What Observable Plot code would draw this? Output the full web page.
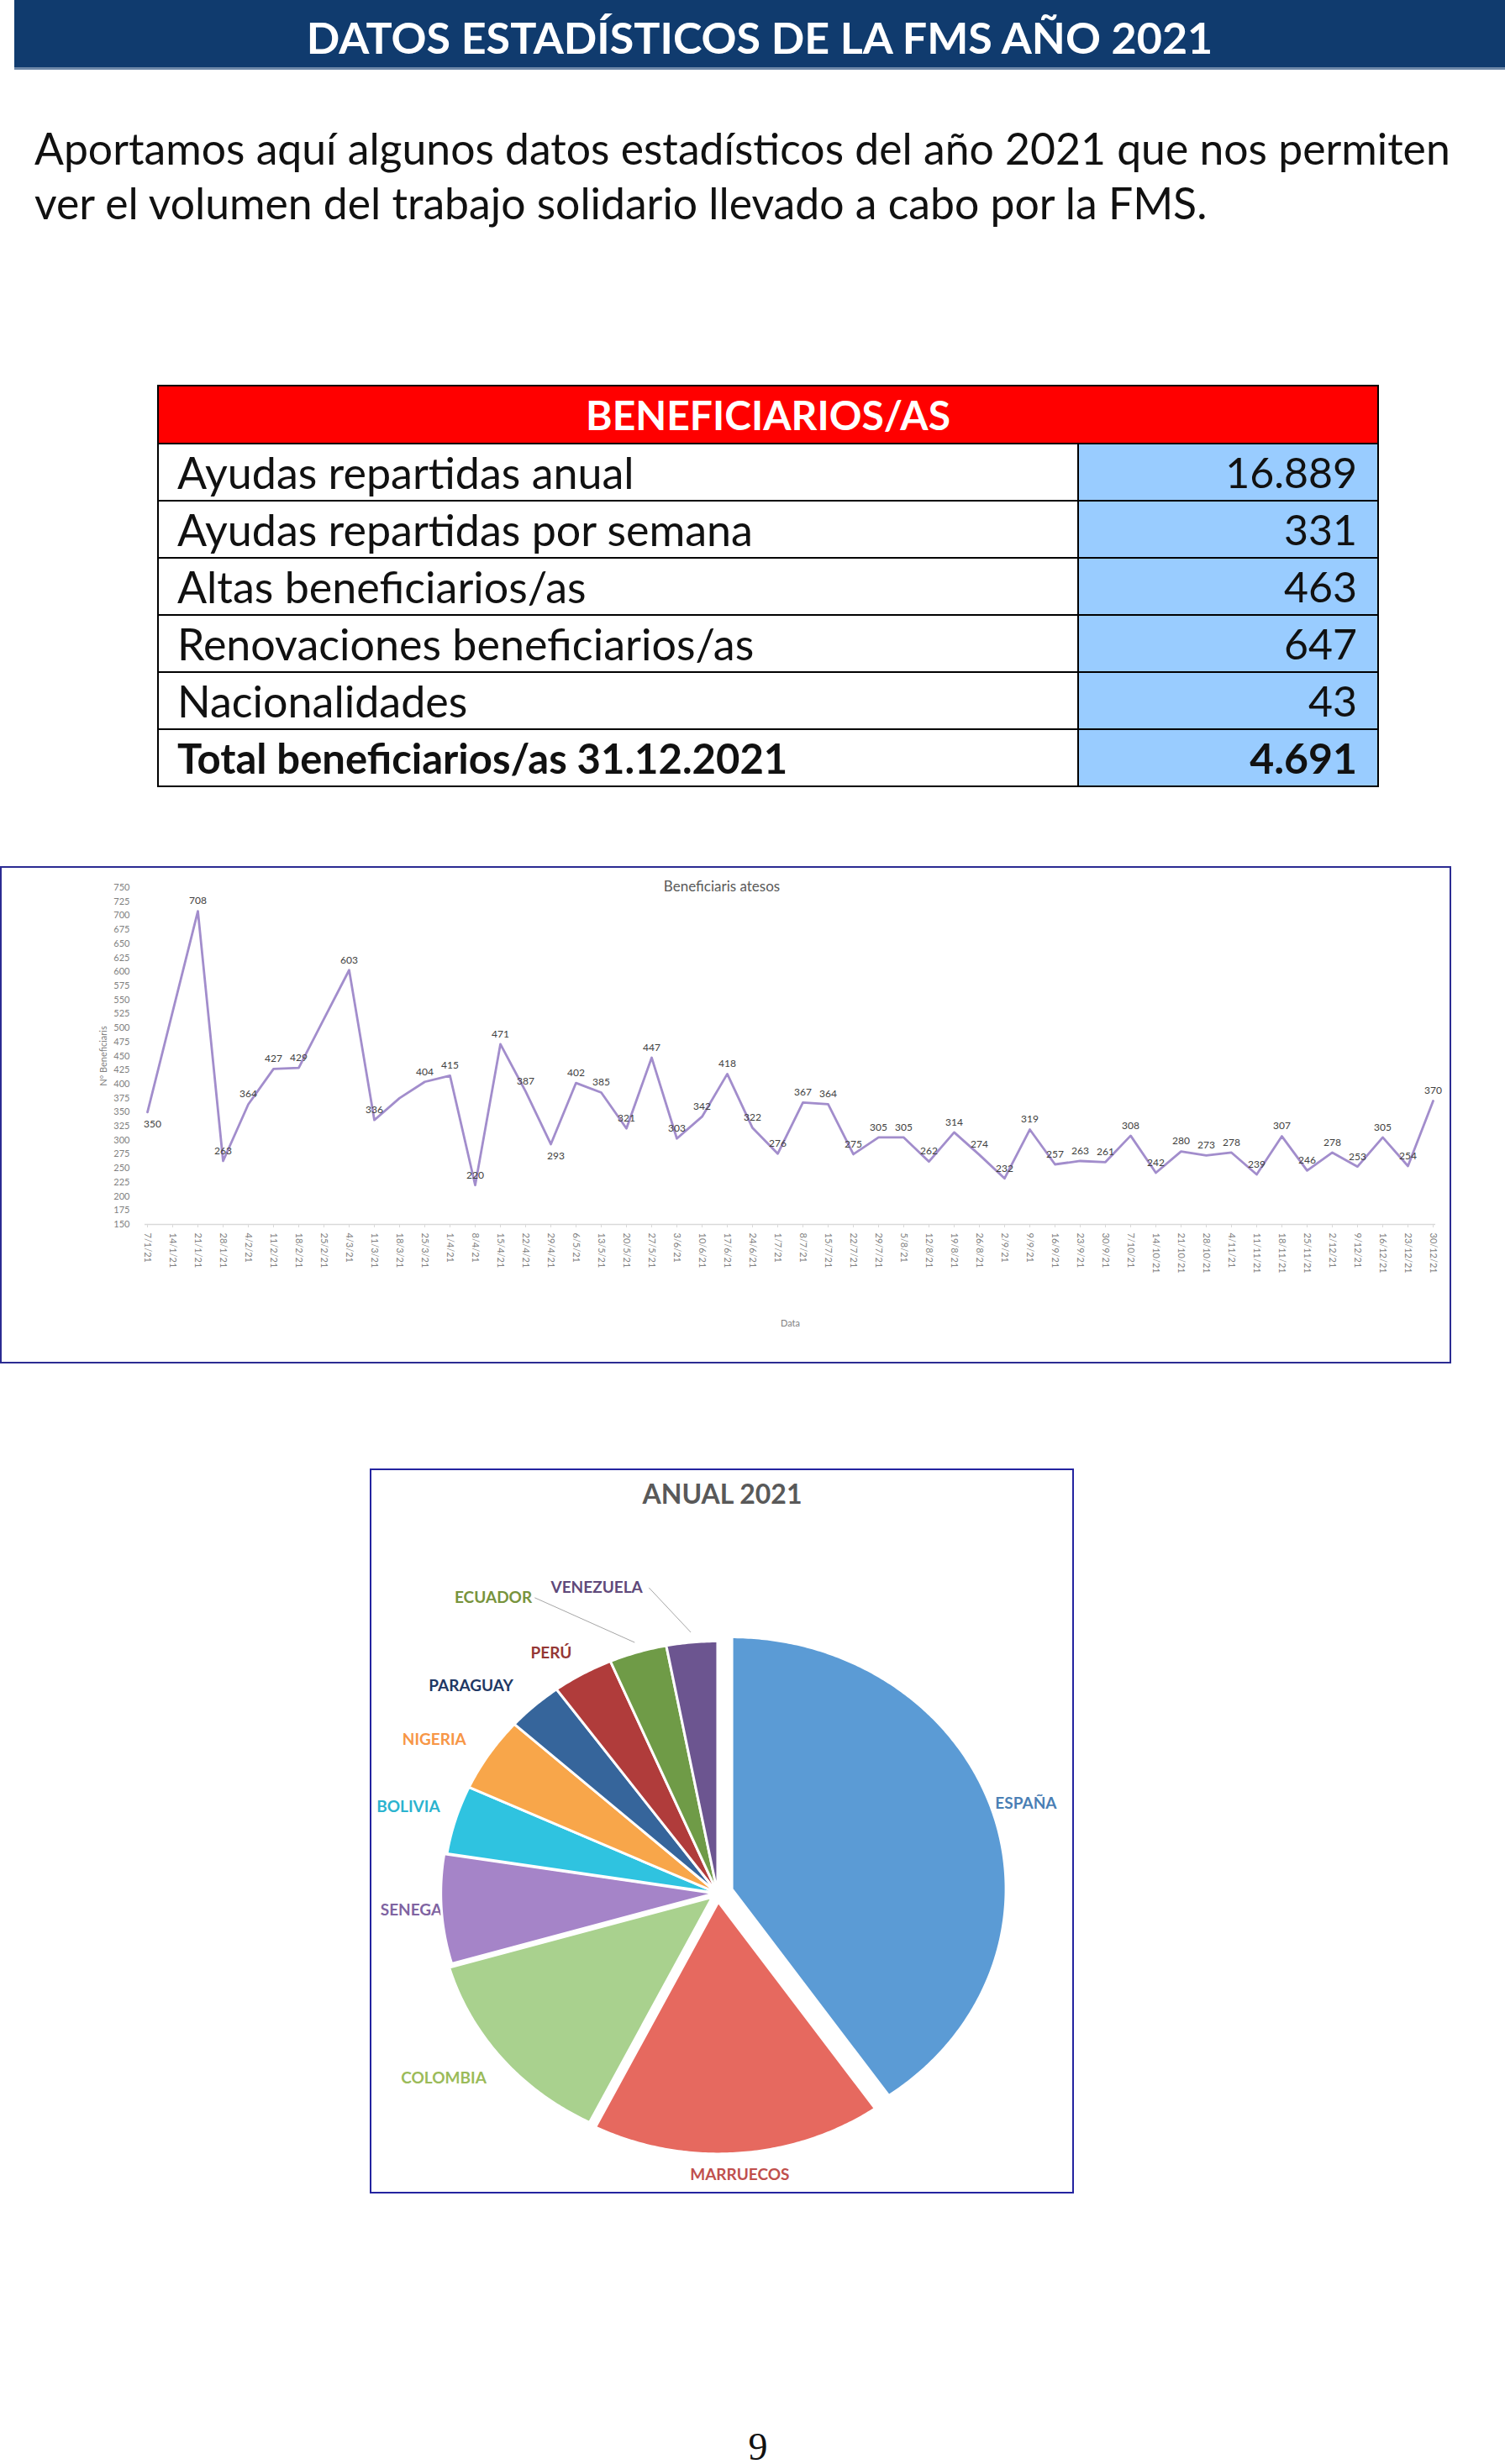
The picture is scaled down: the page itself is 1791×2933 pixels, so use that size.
<!DOCTYPE html>
<html>
<head>
<meta charset="utf-8">
<script src="https://cdn.jsdelivr.net/npm/d3@7"></script>
<script src="https://cdn.jsdelivr.net/npm/@observablehq/plot@0.6"></script>
<style>
html, body { margin: 0; padding: 0; background: #fff; }
body { width: 1791px; height: 2933px; position: relative; overflow: hidden; font-family: Lato, "Open Sans", sans-serif; color: #111; }
.abs { position: absolute; }
#header { left: 17px; top: 0; width: 1774px; height: 80px; background: #103b6e; border-bottom: 3px solid #6d87a8; color: #fff; font-weight: 700; font-size: 52px; text-align: center; line-height: 88px; white-space: nowrap; }
#intro { left: 41px; top: 144px; font-size: 51.7px; line-height: 65px; white-space: nowrap; color: #111; }
#tabla { left: 187px; top: 458px; width: 1452px; border-collapse: collapse; table-layout: fixed; }
#tabla td { border: 2px solid #000; padding: 0; white-space: nowrap; overflow: hidden; }
#tabla .head td { background: #ff0000; color: #fff; font-weight: 700; font-size: 48px; text-align: center; height: 67px; line-height: 67px; }
#tabla .row td { height: 66px; line-height: 66px; }
#tabla .row td.lab { padding-left: 22px; background: #fff; font-size: 52px; }
#tabla .row td.val { padding-right: 24px; text-align: right; background: #99ccff; font-size: 50px; }
#tabla .row.total td { font-weight: 700; }
#tabla .row.total td.lab { font-size: 49px; }
#lineBox { left: 0; top: 1031px; width: 1727px; height: 592px; border: 2px solid #2b2b92; box-sizing: border-box; }
#lineTitle { left: 659px; width: 400px; top: 1044px; text-align: center; font-size: 17px; color: #595959; }
#pieBox { left: 440px; top: 1748px; width: 838px; height: 863px; border: 2px solid #2424a0; box-sizing: border-box; }
#pageNum { left: 860px; width: 84px; top: 2891px; text-align: center; font-family: "Liberation Serif", serif; font-size: 46px; line-height: 44px; color: #111; }
</style>
</head>
<body>
<div id="header" class="abs">DATOS ESTADÍSTICOS DE LA FMS AÑO 2021</div>
<div id="intro" class="abs">Aportamos aquí algunos datos estadísticos del año 2021 que nos permiten<br>ver el volumen del trabajo solidario llevado a cabo por la FMS.</div>
<table id="tabla" class="abs"></table>
<div id="lineBox" class="abs"></div>
<div id="lineTitle" class="abs">Beneficiaris atesos</div>
<div id="pieBox" class="abs"></div>
<div id="pageNum" class="abs">9</div>
<script>
// ---------- Table data ----------
const tablaTitulo = "BENEFICIARIOS/AS";
const tablaConceptos = ["Ayudas repartidas anual", "Ayudas repartidas por semana", "Altas beneficiarios/as", "Renovaciones beneficiarios/as", "Nacionalidades", "Total beneficiarios/as 31.12.2021"];
const tablaValores = ["16.889", "331", "463", "647", "43", "4.691"];

// ---------- Line chart data ----------
const fechas = ["7/1/21","14/1/21","21/1/21","28/1/21","4/2/21","11/2/21","18/2/21","25/2/21","4/3/21","11/3/21","18/3/21","25/3/21",
  "1/4/21","8/4/21","15/4/21","22/4/21","29/4/21","6/5/21","13/5/21","20/5/21","27/5/21","3/6/21","10/6/21","17/6/21","24/6/21",
  "1/7/21","8/7/21","15/7/21","22/7/21","29/7/21","5/8/21","12/8/21","19/8/21","26/8/21","2/9/21","9/9/21","16/9/21","23/9/21","30/9/21",
  "7/10/21","14/10/21","21/10/21","28/10/21","4/11/21","11/11/21","18/11/21","25/11/21","2/12/21","9/12/21","16/12/21","23/12/21","30/12/21"];
const beneficiarios = [350, 529, 708, 263, 364, 427, 429, 516, 603, 336, 375, 404,
  415, 220, 471, 387, 293, 402, 385, 321, 447, 303, 342, 418, 322,
  276, 367, 364, 275, 305, 305, 262, 314, 274, 232, 319, 257, 263, 261,
  308, 242, 280, 273, 278, 239, 307, 246, 278, 253, 305, 254, 370];
const sinEtiqueta = ["14/1/21", "25/2/21", "18/3/21"];
const etiquetaDebajo = ["7/1/21", "29/4/21"];
const yTicks = d3.range(150, 751, 25);

// ---------- Pie data ----------
const paises = ["ESPAÑA", "MARRUECOS", "COLOMBIA", "SENEGAL", "BOLIVIA", "NIGERIA", "PARAGUAY", "PERÚ", "ECUADOR", "VENEZUELA"];
const porcentajes = [40.3, 17.1, 13.1, 7.0, 4.4, 4.8, 3.3, 3.6, 3.4, 3.0];

// ---------- Styles ----------
const coloresSector = ["#5b9bd5", "#e6695f", "#a9d18e", "#a584c8", "#2fc3e0", "#f8a64a", "#36659b", "#b03c3b", "#6f9b47", "#6c5590"];
const coloresEtiqueta = ["#4a7fb5", "#c0504d", "#9bbb59", "#8064a2", "#2bb3cf", "#f79646", "#1f3864", "#953735", "#77933c", "#5f497a"];
const separacion = [0.055, 0.035, 0.025, 0.01, 0, 0, 0, 0, 0, 0];
const ajusteEtiqueta = {
  "MARRUECOS": {r: 1.12}, "COLOMBIA": {da: 3.5, r: 1.24}, "SENEGAL": {r: 1.105},
  "NIGERIA": {da: -3, r: 1.2}, "PARAGUAY": {da: -5.6, r: 1.22}, "PERÚ": {da: -3, r: 1.13},
  "ECUADOR": {da: -18, r: 1.43, leader: true}, "VENEZUELA": {da: -14.6, r: 1.29, leader: true}
};

// ---------- Table ----------
const tabla = document.getElementById("tabla");
tabla.innerHTML = `<colgroup><col style="width:1095px"><col style="width:357px"></colgroup>` +
  `<tr class="head"><td colspan="2">${tablaTitulo}</td></tr>` +
  tablaConceptos.map((c, i) => `<tr class="row${i === tablaConceptos.length - 1 ? " total" : ""}"><td class="lab">${c}</td><td class="val">${tablaValores[i]}</td></tr>`).join("");

// ---------- Line chart ----------
const serie = fechas.map((f, i) => ({fecha: f, valor: beneficiarios[i]}));
const arriba = serie.filter(d => !sinEtiqueta.includes(d.fecha) && !etiquetaDebajo.includes(d.fecha));
const debajo = serie.filter(d => etiquetaDebajo.includes(d.fecha));

const linePlot = Plot.plot({
  width: 1723, height: 588,
  marginLeft: 170, marginRight: 17, marginTop: 23, marginBottom: 164,
  style: {fontFamily: "Lato, sans-serif", background: "transparent", overflow: "visible"},
  x: {type: "point", domain: fechas, padding: 0},
  y: {domain: [150, 750]},
  marks: [
    Plot.axisY(yTicks, {tickSize: 0, tickPadding: 18, fontSize: 11, fill: "#7f7f7f", label: "Nº Beneficiaris", labelAnchor: "center", labelOffset: 53, labelArrow: "none"}),
    Plot.axisX({tickRotate: 90, tickSize: 4, tickPadding: 6, stroke: "#d9d9d9", fill: "#7f7f7f", fontSize: 11, label: "Data", labelAnchor: "center", labelOffset: 121, labelArrow: "none"}),
    Plot.ruleY([150], {stroke: "#d9d9d9", strokeWidth: 1.5}),
    Plot.line(serie, {x: "fecha", y: "valor", stroke: "#a28dcc", strokeWidth: 2.8}),
    Plot.text(arriba, {x: "fecha", y: "valor", text: d => String(d.valor), dy: -12, fontSize: 12, fill: "#404040"}),
    Plot.text(debajo, {x: "fecha", y: "valor", text: d => String(d.valor), dy: 14, dx: 6, fontSize: 12, fill: "#404040"})
  ]
});
document.getElementById("lineBox").appendChild(linePlot);

// ---------- Pie chart ----------
const arcos = d3.pie().sort(null).value(d => d)(porcentajes);
const puntosSector = [];
const etiquetas = [];
const guias = [];
arcos.forEach((a, i) => {
  const mid = (a.startAngle + a.endAngle) / 2;
  const ox = separacion[i] * Math.sin(mid), oy = separacion[i] * Math.cos(mid);
  puntosSector.push({pais: paises[i], x: ox, y: oy});
  const n = Math.max(4, Math.ceil((a.endAngle - a.startAngle) / 0.01));
  for (let k = 0; k <= n; k++) {
    const t = a.startAngle + (a.endAngle - a.startAngle) * k / n;
    puntosSector.push({pais: paises[i], x: ox + Math.sin(t), y: oy + Math.cos(t)});
  }
  const adj = ajusteEtiqueta[paises[i]] || {};
  const ang = mid + (adj.da || 0) * Math.PI / 180;
  const r = adj.r ?? 1.18;
  const lx = r * Math.sin(ang), ly = r * Math.cos(ang);
  etiquetas.push({pais: paises[i], x: lx, y: ly, color: coloresEtiqueta[i]});
  if (adj.leader) {
    const half = (paises[i].length * 0.68 * 19 / 2 + 4) / 326;
    guias.push({x1: lx + half, y1: ly, x2: 1.04 * Math.sin(mid), y2: 1.04 * Math.cos(mid)});
  }
});

const piePlot = Plot.plot({
  width: 834, height: 859,
  margin: 0,
  style: {fontFamily: "Lato, sans-serif", background: "transparent", overflow: "visible"},
  x: {domain: [-1.262, 1.296], axis: null},
  y: {domain: [-1.187, 1.677], axis: null},
  color: {domain: paises, range: coloresSector},
  marks: [
    ...etiquetas.map(e => Plot.text([e], {x: "x", y: "y", text: "pais", fill: e.color, fontSize: 19, fontWeight: "bold"})),
    Plot.link(guias, {x1: "x1", y1: "y1", x2: "x2", y2: "y2", stroke: "#a6a6a6", strokeWidth: 1}),
    Plot.line(puntosSector, {x: "x", y: "y", z: "pais", fill: "pais", stroke: "#ffffff", strokeWidth: 3, curve: "linear-closed"}),
    Plot.text(["ANUAL 2021"], {frameAnchor: "top", dy: 17, fontSize: 32, fontWeight: "bold", fill: "#595959"})
  ]
});
document.getElementById("pieBox").appendChild(piePlot);
</script>
</body>
</html>
